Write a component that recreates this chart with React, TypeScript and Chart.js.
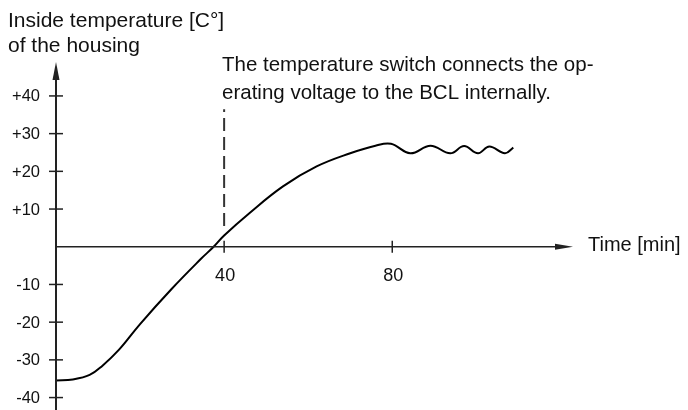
import React, { useEffect, useRef } from "react";
import { Chart, registerables } from "chart.js";

Chart.register(...registerables);

// ---- data ----
const timeMin = [0, 4, 8, 11, 15, 20, 27.5, 34.5, 37.5, 40, 46, 54, 62, 70, 76, 79.7, 84.3, 89.1, 93.8, 97.1, 100.4, 103.1, 106.8, 108.8];
const tempC = [-35.5, -35.2, -34, -31.6, -27.3, -20.5, -11.2, -3.2, 0, 3, 8.9, 16, 21.3, 24.8, 26.8, 27.3, 24.8, 26.8, 24.8, 26.7, 24.8, 26.6, 24.8, 26.3];

const yTicks = [40, 30, 20, 10, -10, -20, -30, -40];
const yTickLabels = ["+40", "+30", "+20", "+10", "-10", "-20", "-30", "-40"];
const xTicks = [40, 80];
const xTickLabels = ["40", "80"];

const switchTime = 40;
const switchLineTemps = [5.5, 36.5];

const yTitleLines = ["Inside temperature [C°]", "of the housing"];
const noteLines = ["The temperature switch connects the op-", "erating voltage to the BCL internally."];
const xTitle = "Time [min]";

const xRange = [0, 123];
const yRange = [-42.9, 49];

const FONT = '"Liberation Sans", Arial, Helvetica, sans-serif';

const axesPlugin = {
  id: "customAxes",
  afterDatasetsDraw(chart: any) {
    const ctx = chart.ctx as CanvasRenderingContext2D;
    const xs = chart.scales.x;
    const ys = chart.scales.y;
    const x0 = xs.getPixelForValue(0);
    const y0 = ys.getPixelForValue(0);
    const axisColor = "#222";
    ctx.save();

    // y axis
    const yTip = ys.getPixelForValue(yRange[1]);
    ctx.strokeStyle = axisColor;
    ctx.lineWidth = 2;
    ctx.beginPath();
    ctx.moveTo(x0, chart.height);
    ctx.lineTo(x0, yTip + 12);
    ctx.stroke();
    ctx.fillStyle = axisColor;
    ctx.beginPath();
    ctx.moveTo(x0, yTip);
    ctx.lineTo(x0 - 3.5, yTip + 18);
    ctx.lineTo(x0 + 3.5, yTip + 18);
    ctx.closePath();
    ctx.fill();

    // x axis
    const xTip = xs.getPixelForValue(xRange[1]);
    ctx.lineWidth = 1.4;
    ctx.beginPath();
    ctx.moveTo(x0, y0);
    ctx.lineTo(xTip - 10, y0);
    ctx.stroke();
    ctx.beginPath();
    ctx.moveTo(xTip, y0);
    ctx.lineTo(xTip - 18, y0 - 3);
    ctx.lineTo(xTip - 18, y0 + 3);
    ctx.closePath();
    ctx.fill();

    // y ticks
    ctx.lineWidth = 1.5;
    ctx.fillStyle = "#111";
    ctx.font = `16.5px ${FONT}`;
    ctx.textAlign = "right";
    ctx.textBaseline = "middle";
    yTicks.forEach((v, i) => {
      const py = ys.getPixelForValue(v);
      ctx.beginPath();
      ctx.moveTo(x0 - 7, py);
      ctx.lineTo(x0 + 7, py);
      ctx.stroke();
      ctx.fillText(yTickLabels[i], x0 - 16, py + 1);
    });

    // x ticks
    ctx.font = `18px ${FONT}`;
    ctx.textAlign = "center";
    ctx.textBaseline = "alphabetic";
    xTicks.forEach((v, i) => {
      const px = xs.getPixelForValue(v);
      ctx.beginPath();
      ctx.moveTo(px, y0 - 6);
      ctx.lineTo(px, y0 + 6);
      ctx.stroke();
      ctx.fillText(xTickLabels[i], px + 1, y0 + 34);
    });

    // texts
    ctx.textAlign = "left";
    ctx.font = `21px ${FONT}`;
    ctx.fillText(yTitleLines[0], 8, 26.5);
    ctx.fillText(yTitleLines[1], 8, 51.5);
    ctx.font = `20.5px ${FONT}`;
    ctx.fillText(noteLines[0], 222, 70.7);
    ctx.fillText(noteLines[1], 222, 99.3);
    ctx.font = `20px ${FONT}`;
    ctx.fillText(xTitle, xTip + 15, y0 + 4);

    ctx.restore();
  },
};

export default function App() {
  const ref = useRef<HTMLCanvasElement | null>(null);

  useEffect(() => {
    document.body.style.margin = "0";
    const canvas = ref.current;
    if (!canvas) return;
    const chart = new Chart(canvas, {
      type: "line",
      data: {
        datasets: [
          {
            data: timeMin.map((t, i) => ({ x: t, y: tempC[i] })),
            borderColor: "#000",
            borderWidth: 2,
            pointRadius: 0,
            tension: 0.4,
            fill: false,
          },
          {
            data: switchLineTemps.map((v) => ({ x: switchTime, y: v })),
            borderColor: "#333",
            borderWidth: 2,
            borderDash: [13, 6],
            pointRadius: 0,
            fill: false,
          },
        ],
      },
      options: {
        animation: false,
        responsive: false,
        layout: { padding: { left: 56, right: 115, top: 62, bottom: 1.5 } },
        plugins: { legend: { display: false }, tooltip: { enabled: false }, title: { display: false } },
        scales: {
          x: { type: "linear", min: xRange[0], max: xRange[1], display: false },
          y: { type: "linear", min: yRange[0], max: yRange[1], display: false },
        },
      },
      plugins: [axesPlugin],
    } as any);
    return () => chart.destroy();
  }, []);

  return (
    <div style={{ width: 688, height: 410, background: "#fff" }}>
      <canvas ref={ref} width={688} height={410} style={{ display: "block" }} />
    </div>
  );
}
